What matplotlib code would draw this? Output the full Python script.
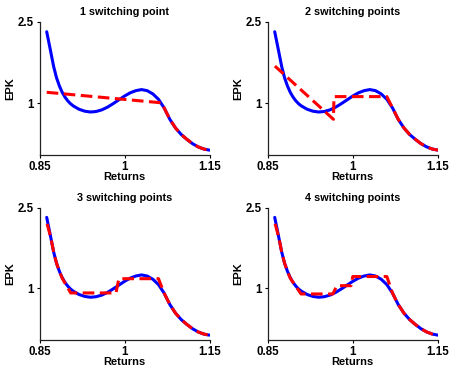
import matplotlib
matplotlib.use("Agg")
import matplotlib.pyplot as plt

plt.rcParams['font.family'] = ['Liberation Sans', 'DejaVu Sans']
plt.rcParams['font.weight'] = 'bold'

# EPK curve
ret = [0.8627, 0.865, 0.87, 0.875, 0.88, 0.885, 0.89, 0.895, 0.90, 0.905, 0.91,
       0.92, 0.93, 0.94, 0.95, 0.96, 0.97, 0.98, 0.99, 1.00, 1.01, 1.02, 1.03,
       1.04, 1.05, 1.06, 1.07, 1.08, 1.09, 1.10, 1.11, 1.12, 1.13, 1.14, 1.15]
epk = [2.32, 2.20, 1.94, 1.675, 1.47, 1.32, 1.20, 1.11, 1.04, 0.985, 0.945,
       0.885, 0.85, 0.835, 0.845, 0.875, 0.925, 0.99, 1.06, 1.13, 1.19, 1.23, 1.25,
       1.23, 1.17, 1.07, 0.91, 0.70, 0.54, 0.42, 0.33, 0.25, 0.19, 0.15, 0.13]

titles = ["1 switching point", "2 switching points",
          "3 switching points", "4 switching points"]

# piecewise approximations: head nodes, then the EPK tail from 1.07 on
head1_x = [0.8627, 1.0656]
head1_y = [1.20, 1.005]
head2_x = [0.8630, 0.966, 0.967, 1.060]
head2_y = [1.685, 0.70, 1.12, 1.12]
head3_x = [0.8635, 0.87, 0.875, 0.88, 0.885, 0.89, 0.905, 0.985, 0.990, 1.060]
head3_y = [2.20, 1.94, 1.675, 1.47, 1.32, 1.19, 0.915, 0.915, 1.18, 1.18]
head4_x = [0.8635, 0.87, 0.875, 0.88, 0.885, 0.89, 0.909, 0.965, 0.972, 0.997, 1.000, 1.060]
head4_y = [2.20, 1.94, 1.675, 1.47, 1.32, 1.19, 0.896, 0.896, 1.05, 1.05, 1.22, 1.22]

heads = [(head1_x, head1_y), (head2_x, head2_y), (head3_x, head3_y), (head4_x, head4_y)]
tail_start = 1.07

xticks = [0.85, 1.0, 1.15]
xticklabels = ["0.85", "1", "1.15"]
yticks = [1.0, 2.5]
yticklabels = ["1", "2.5"]

fig = plt.figure(figsize=(4.51, 3.67), dpi=100)
W, H = 451, 367
boxes = [(39.5, 22, 170, 133), (267.5, 22, 170.5, 133),
         (39.5, 207.7, 170, 132.3), (267.5, 207.7, 170.5, 132.3)]

for i, (l, t, w, h) in enumerate(boxes):
    ax = fig.add_axes([l / W, (H - t - h) / H, w / W, h / H])
    ax.plot(ret, epk, color=(0, 0, 1), lw=2.2, solid_capstyle='round',
            solid_joinstyle='round', zorder=2)
    hx, hy = heads[i]
    tx = [x for x in ret if x >= tail_start]
    ty = [y for x, y in zip(ret, epk) if x >= tail_start]
    ax.plot(hx + tx, hy + ty, color=(1, 0, 0), lw=2.2, dashes=(3.8, 1.8), zorder=3)
    ax.set_xlim(0.85, 1.15)
    ax.set_ylim(0.04, 2.5)
    ax.set_xticks(xticks)
    ax.set_xticklabels(xticklabels)
    ax.set_yticks(yticks)
    ax.set_yticklabels(yticklabels)
    ax.tick_params(direction='out', length=2.5, width=0.8, labelsize=8.3, pad=2)
    for lab in ax.get_xticklabels() + ax.get_yticklabels():
        lab.set_fontweight('bold')
    for s in ['top', 'right']:
        ax.spines[s].set_visible(False)
    for s in ['left', 'bottom']:
        ax.spines[s].set_linewidth(0.9)
        ax.spines[s].set_color('#222222')
    ax.set_title(titles[i], fontsize=7.8, fontweight='bold', pad=5)
    ax.set_xlabel("Returns", fontsize=8, fontweight='bold', labelpad=-1)
    ax.set_ylabel("EPK", fontsize=8, fontweight='bold', labelpad=1)

fig.savefig("out.png", dpi=100)
